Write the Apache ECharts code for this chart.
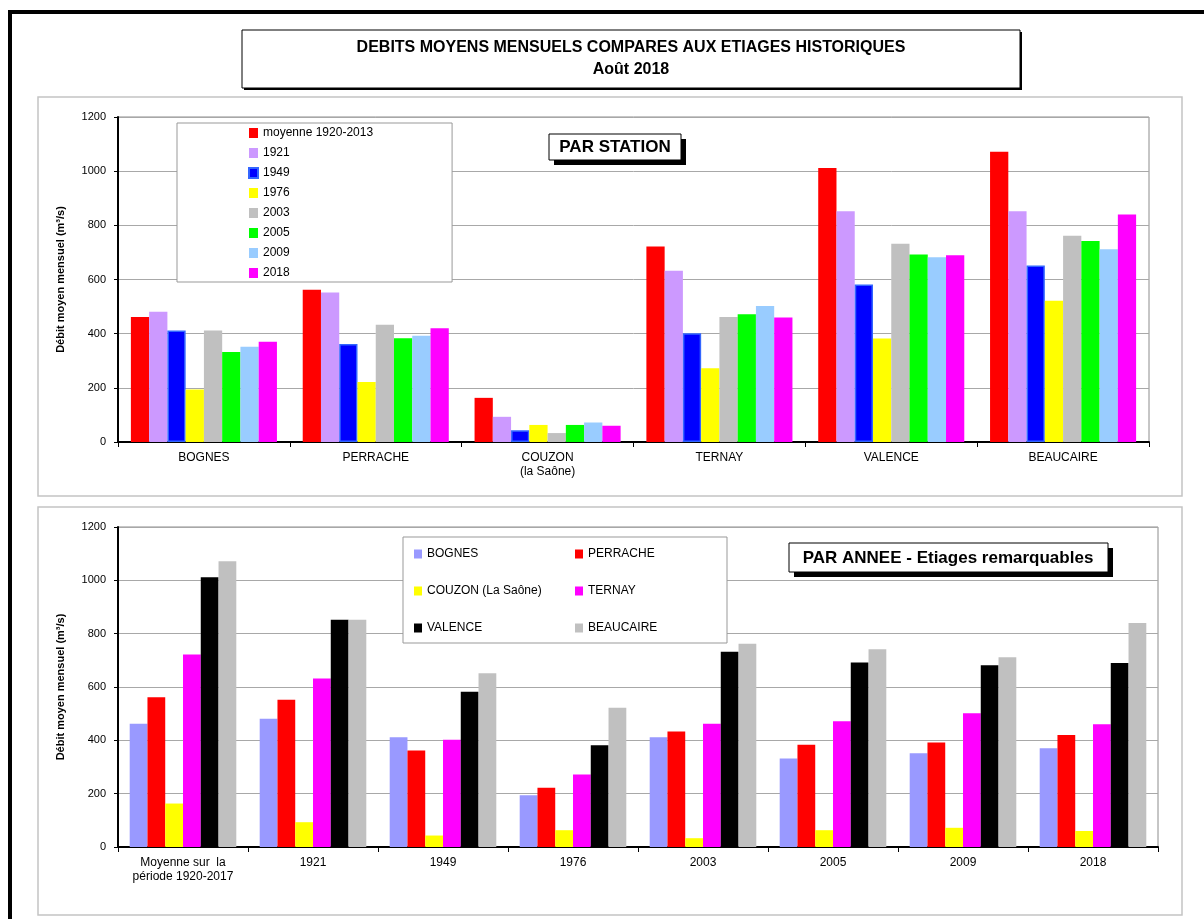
<!DOCTYPE html>
<html>
<head>
<meta charset="utf-8">
<script src="https://cdn.jsdelivr.net/npm/echarts@6/dist/echarts.min.js"></script>
<style>
html,body{margin:0;padding:0;background:#fff;}
#chart{width:1204px;height:919px;}
</style>
</head>
<body>
<div id="chart"></div>
<script>
// ---- data ----
const stationLabels = ['BOGNES', 'PERRACHE', 'COUZON\n(la Saône)', 'TERNAY', 'VALENCE', 'BEAUCAIRE'];
const stationNames = ['BOGNES', 'PERRACHE', 'COUZON (La Saône)', 'TERNAY', 'VALENCE', 'BEAUCAIRE'];
const periodNames = ['moyenne 1920-2013', '1921', '1949', '1976', '2003', '2005', '2009', '2018'];
const periodLabels = ['Moyenne sur  la\npériode 1920-2017', '1921', '1949', '1976', '2003', '2005', '2009', '2018'];
const yTicks = [0, 200, 400, 600, 800, 1000, 1200];

// values per station, in the order of periodNames
const bognes    = [462, 481, 412, 194, 412, 332, 352, 370];
const perrache  = [562, 552, 362, 222, 433, 383, 392, 420];
const couzon    = [163,  93,  43,  63,  33,  63,  72,  60];
const ternay    = [722, 632, 402, 272, 462, 472, 502, 460];
const valence   = [1012, 852, 582, 382, 732, 692, 682, 690];
const beaucaire = [1072, 852, 652, 522, 762, 742, 712, 840];
const stationValues = [bognes, perrache, couzon, ternay, valence, beaucaire];

const periodColors = ['#ff0000', '#cc99ff', '#0000ff', '#ffff00', '#c0c0c0', '#00ff00', '#99ccff', '#ff00ff'];
const stationColors = ['#9999ff', '#ff0000', '#ffff00', '#ff00ff', '#000000', '#c0c0c0'];

// ---- chart ----
const FONT = 'Liberation Sans, Arial, sans-serif';
const chart = echarts.init(document.getElementById('chart'), null, {renderer: 'canvas'});

function yAxis(gridIndex) {
  return {
    type: 'value', gridIndex: gridIndex, min: yTicks[0], max: yTicks[yTicks.length - 1], interval: 200,
    name: 'Débit moyen mensuel (m³/s)', nameLocation: 'middle', nameRotate: 90, nameGap: 52,
    nameTextStyle: {fontFamily: FONT, fontSize: 11, fontWeight: 'bold', color: '#000'},
    axisLine: {show: true, lineStyle: {color: '#000', width: 2}},
    axisTick: {show: true, length: 4, lineStyle: {color: '#000'}},
    axisLabel: {fontFamily: FONT, fontSize: 11, color: '#000', margin: 12,
      formatter: function (v) { return String(v); }},
    splitLine: {show: true, lineStyle: {color: '#a8a8a8', width: 1}}
  };
}
function xAxis(gridIndex, data) {
  return {
    type: 'category', gridIndex: gridIndex, data: data,
    axisLine: {show: true, lineStyle: {color: '#000', width: 2}},
    axisTick: {show: true, length: 5, lineStyle: {color: '#000'}},
    axisLabel: {fontFamily: FONT, fontSize: 12, color: '#000', margin: 9, lineHeight: 14, interval: 0},
    splitLine: {show: false}
  };
}

const series = [];
periodNames.forEach(function (p, i) {
  const s = {
    name: p, type: 'bar', xAxisIndex: 0, yAxisIndex: 0,
    data: stationValues.map(function (v) { return v[i]; }),
    barGap: '0%', barCategoryGap: '15%',
    itemStyle: {color: periodColors[i]},
    emphasis: {disabled: true}
  };
  if (i === 2) { s.itemStyle.borderColor = '#3366ff'; s.itemStyle.borderWidth = 1.5; }
  series.push(s);
});
stationNames.forEach(function (st, j) {
  series.push({
    name: st, type: 'bar', xAxisIndex: 1, yAxisIndex: 1,
    data: stationValues[j].slice(),
    barGap: '0%', barCategoryGap: '18%',
    itemStyle: {color: stationColors[j]},
    emphasis: {disabled: true}
  });
});

const legendText = {fontFamily: FONT, fontSize: 12, color: '#000'};

const option = {
  animation: false,
  backgroundColor: '#fff',
  textStyle: {fontFamily: FONT},
  title: [{
    text: 'DEBITS MOYENS MENSUELS COMPARES AUX ETIAGES HISTORIQUES',
    subtext: 'Août 2018',
    left: 631, top: 40, textAlign: 'center', itemGap: 6, padding: 0,
    textStyle: {fontFamily: FONT, fontSize: 16, fontWeight: 'bold', color: '#000'},
    subtextStyle: {fontFamily: FONT, fontSize: 16, fontWeight: 'bold', color: '#000'}
  }],
  grid: [
    {left: 118, top: 117, width: 1031, height: 325, show: true, borderColor: '#8c8c8c', borderWidth: 1, backgroundColor: 'transparent'},
    {left: 118, top: 527, width: 1040, height: 320, show: true, borderColor: '#8c8c8c', borderWidth: 1, backgroundColor: 'transparent'}
  ],
  xAxis: [xAxis(0, stationLabels), xAxis(1, periodLabels)],
  yAxis: [yAxis(0), yAxis(1)],
  legend: [
    {
      data: periodNames, orient: 'vertical', left: 177, top: 123,
      padding: [4, 79, 3, 71], itemGap: 8, itemWidth: 9, itemHeight: 10, icon: 'rect',
      backgroundColor: '#fff', borderColor: '#999', borderWidth: 1,
      textStyle: legendText, selectedMode: false
    },
    {
      data: [stationNames[0], stationNames[2], stationNames[4]], orient: 'vertical', left: 414, top: 548,
      padding: 0, itemGap: 25, itemWidth: 8, itemHeight: 9, icon: 'rect', textStyle: legendText, selectedMode: false, z: 6
    },
    {
      data: [stationNames[1], stationNames[3], stationNames[5]], orient: 'vertical', left: 575, top: 548,
      padding: 0, itemGap: 25, itemWidth: 8, itemHeight: 9, icon: 'rect', textStyle: legendText, selectedMode: false, z: 6
    }
  ],
  graphic: [
    // page frame lines
    {type: 'rect', shape: {x: 8, y: 10, width: 1196, height: 4}, style: {fill: '#000'}, z: 10},
    {type: 'rect', shape: {x: 8, y: 10, width: 4, height: 909}, style: {fill: '#000'}, z: 10},
    // title box
    {type: 'rect', shape: {x: 244, y: 32, width: 778, height: 58}, style: {fill: '#000'}, z: 0},
    {type: 'rect', shape: {x: 242, y: 30, width: 778, height: 58}, style: {fill: '#fff', stroke: '#000', lineWidth: 1}, z: 0},
    // panels
    {type: 'rect', shape: {x: 38, y: 97, width: 1144, height: 399}, style: {fill: 'none', stroke: '#c4c4c4', lineWidth: 1.5}, z: 0},
    {type: 'rect', shape: {x: 38, y: 507, width: 1144, height: 408}, style: {fill: 'none', stroke: '#c4c4c4', lineWidth: 1.5}, z: 0},
    // PAR STATION box
    {type: 'rect', shape: {x: 554, y: 139, width: 132, height: 26}, style: {fill: '#000'}, z: 5},
    {type: 'rect', shape: {x: 549, y: 134, width: 132, height: 26}, style: {fill: '#fff', stroke: '#000', lineWidth: 1}, z: 5},
    {type: 'text', style: {text: 'PAR STATION', x: 615, y: 147, textAlign: 'center', textVerticalAlign: 'middle',
      font: 'bold 17px ' + FONT, fill: '#000'}, z: 6},
    // PAR ANNEE box
    {type: 'rect', shape: {x: 794, y: 548, width: 319, height: 29}, style: {fill: '#000'}, z: 5},
    {type: 'rect', shape: {x: 789, y: 543, width: 319, height: 29}, style: {fill: '#fff', stroke: '#000', lineWidth: 1}, z: 5},
    {type: 'text', style: {text: 'PAR ANNEE - Etiages remarquables', x: 948, y: 558, textAlign: 'center', textVerticalAlign: 'middle',
      font: 'bold 17px ' + FONT, fill: '#000'}, z: 6},
    // bottom legend box
    {type: 'rect', shape: {x: 403, y: 537, width: 324, height: 106}, style: {fill: '#fff', stroke: '#999', lineWidth: 1}, z: 5}
  ],
  series: series
};
chart.setOption(option);
</script>
</body>
</html>
